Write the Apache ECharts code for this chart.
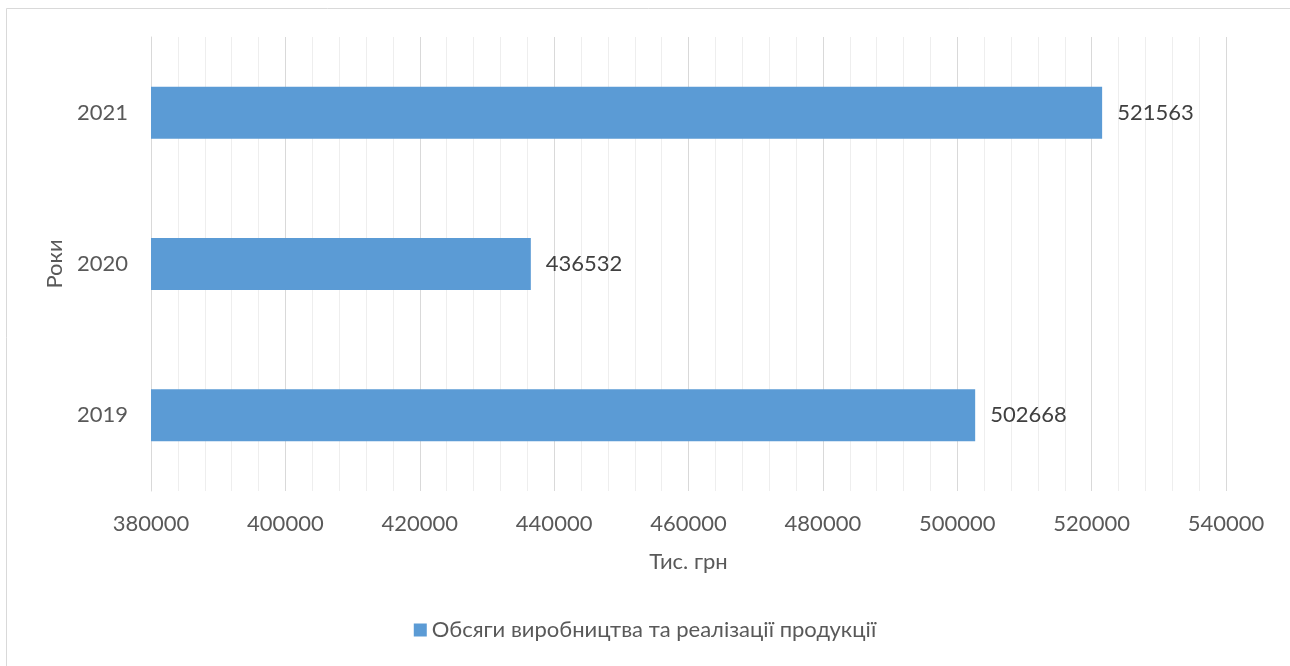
<!DOCTYPE html>
<html>
<head>
<meta charset="utf-8">
<script src="https://cdn.jsdelivr.net/npm/echarts@6/dist/echarts.min.js"></script>
<style>
  html, body { margin: 0; padding: 0; background: #fff; }
  #chart { width: 1290px; height: 666px; }
</style>
</head>
<body>
<div id="chart"></div>
<script>
// Production and sales volumes by year, thousand UAH
const years = ['2019', '2020', '2021'];
const volumes = [502668, 436532, 521563];
const seriesName = 'Обсяги виробництва та реалізації продукції';
const xMin = 380000;
const xMax = 540000;
const xStep = 20000;

const font = 'Lato, "Open Sans", sans-serif';
const fs = 22;
const chart = echarts.init(document.getElementById('chart'));

chart.setOption({
  animation: false,
  backgroundColor: '#ffffff',
  textStyle: { fontFamily: font },
  graphic: [{
    type: 'rect',
    shape: { x: 6.5, y: 8.5, width: 1400, height: 800 },
    style: { fill: 'none', stroke: '#d9d9d9', lineWidth: 1 },
    silent: true
  }],
  grid: { left: 151, right: 64, top: 37, bottom: 175, containLabel: false },
  legend: {
    bottom: 20,
    left: 'center',
    itemWidth: 13,
    itemHeight: 13,
    itemGap: 6,
    icon: 'rect',
    textStyle: { color: '#595959', fontSize: fs, fontFamily: font },
    data: [seriesName]
  },
  xAxis: {
    type: 'value',
    min: xMin,
    max: xMax,
    interval: xStep,
    name: 'Тис. грн',
    nameLocation: 'middle',
    nameGap: 60,
    nameTextStyle: { color: '#595959', fontSize: fs, fontFamily: font },
    axisLine: { show: false },
    axisTick: { show: false },
    axisLabel: {
      color: '#595959', fontSize: fs, margin: 22, fontFamily: font,
      formatter: function (v) { return String(v); }
    },
    splitLine: { show: true, lineStyle: { color: '#d9d9d9', width: 1 } },
    minorTick: { show: false, splitNumber: 5 },
    minorSplitLine: { show: true, lineStyle: { color: '#eeeeee', width: 1 } }
  },
  yAxis: {
    type: 'category',
    data: years,
    name: 'Роки',
    nameLocation: 'middle',
    nameGap: 82,
    nameRotate: 90,
    nameTextStyle: { color: '#595959', fontSize: fs, fontFamily: font },
    axisLine: { show: true, lineStyle: { color: '#d9d9d9', width: 1 } },
    axisTick: { show: false },
    axisLabel: { color: '#595959', fontSize: fs, margin: 23, fontFamily: font },
    splitLine: { show: false }
  },
  series: [{
    name: seriesName,
    type: 'bar',
    data: volumes,
    barWidth: 52,
    itemStyle: { color: '#5b9bd5' },
    label: {
      show: true,
      position: 'right',
      distance: 15,
      color: '#404040',
      fontSize: fs,
      fontFamily: font
    }
  }]
});
</script>
</body>
</html>
